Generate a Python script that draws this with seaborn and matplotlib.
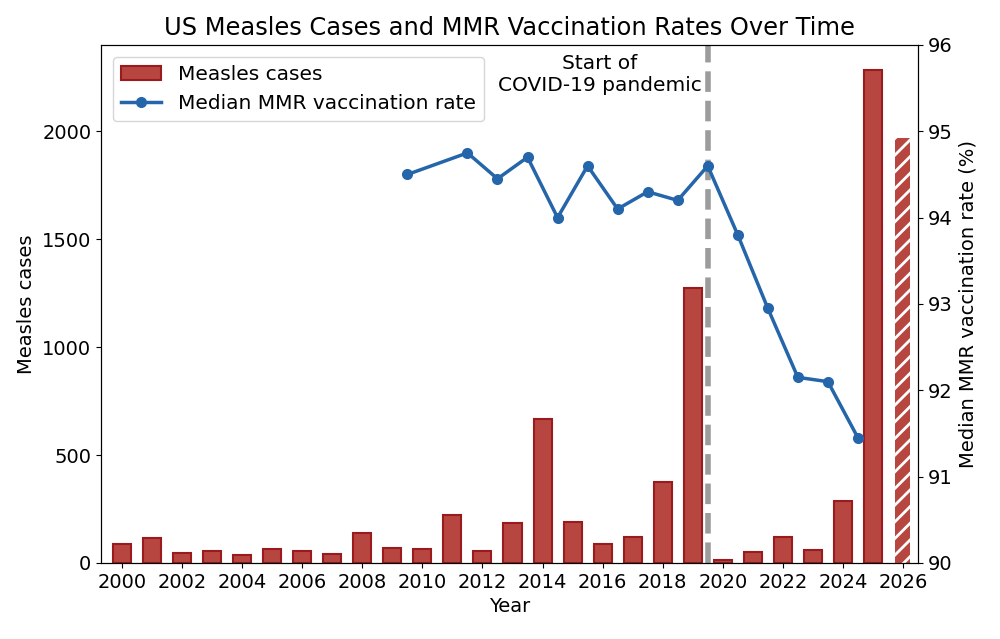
import numpy as np
import pandas as pd
import seaborn as sns
import matplotlib
matplotlib.use('Agg')
import matplotlib.pyplot as plt

# measles cases per year (CDC), 2026 is partial / projected
years = [2000, 2001, 2002, 2003, 2004, 2005, 2006, 2007, 2008, 2009, 2010, 2011, 2012,
         2013, 2014, 2015, 2016, 2017, 2018, 2019, 2020, 2021, 2022, 2023, 2024, 2025]
cases = [86, 116, 44, 56, 37, 66, 55, 43, 140, 71, 63, 220, 55,
         187, 667, 188, 86, 120, 375, 1274, 13, 49, 121, 59, 285, 2285]
partial_year = [2026]
partial_cases = [1971]

# median kindergarten MMR coverage, plotted at mid school year
school_year = [2009.5, 2011.5, 2012.5, 2013.5, 2014.5, 2015.5, 2016.5, 2017.5,
               2018.5, 2019.5, 2020.5, 2021.5, 2022.5, 2023.5, 2024.5]
mmr_rate = [94.5, 94.75, 94.45, 94.7, 94.0, 94.6, 94.1, 94.3,
            94.2, 94.6, 93.8, 92.95, 92.15, 92.1, 91.45]

covid_start = 2019.5

bar_face = '#B6463F'
bar_edge = '#9A1A1E'
line_col = '#2565AA'

plt.rcParams['font.family'] = ['DejaVu Sans']
plt.rcParams['font.size'] = 14
plt.rcParams['hatch.linewidth'] = 2.0

df_cases = pd.DataFrame({'year': years, 'cases': cases})
df_part = pd.DataFrame({'year': partial_year, 'cases': partial_cases})
df_mmr = pd.DataFrame({'year': school_year, 'rate': mmr_rate})

fig, ax = plt.subplots(figsize=(10, 6.39), dpi=100)
fig.subplots_adjust(left=0.101, right=0.918, bottom=0.119, top=0.9296)

sns.barplot(data=df_cases, x='year', y='cases', native_scale=True, width=0.6,
            color=bar_face, saturation=1, edgecolor=bar_edge, linewidth=1.5,
            errorbar=None, label='Measles cases', ax=ax)
sns.barplot(data=df_part, x='year', y='cases', native_scale=True, width=0.5,
            color=bar_face, saturation=1, edgecolor='white', linewidth=0,
            hatch='//', errorbar=None, ax=ax)

ax.axvline(covid_start, color='#9c9c9c', linestyle='--', linewidth=4, zorder=0)
ax.text(covid_start - 0.2, 2360, 'Start of\nCOVID-19 pandemic', ha='right', va='top',
        multialignment='center', fontsize=14.5)

ax.set_xlim(1999.3, 2026.5)
ax.set_ylim(0, 2400)
ax.set_xticks(range(2000, 2027, 2))
ax.set_yticks([0, 500, 1000, 1500, 2000])
ax.set_xlabel('Year')
ax.set_ylabel('Measles cases')
ax.set_title('US Measles Cases and MMR Vaccination Rates Over Time', fontsize=17.4, pad=7)

ax2 = ax.twinx()
sns.lineplot(data=df_mmr, x='year', y='rate', marker='o', markersize=8,
             markeredgewidth=0, color=line_col, linewidth=2.5,
             label='Median MMR vaccination rate', ax=ax2)
ax2.set_ylim(90, 96)
ax2.set_ylabel('Median MMR vaccination rate (%)')

h1, l1 = ax.get_legend_handles_labels()
h2, l2 = ax2.get_legend_handles_labels()
ax2.legend(h1 + h2, l1 + l2, loc='upper left', fontsize=14.5, borderaxespad=0.6)
if ax.get_legend() is not None:
    ax.get_legend().remove()

fig.savefig('out.png', dpi=100)
